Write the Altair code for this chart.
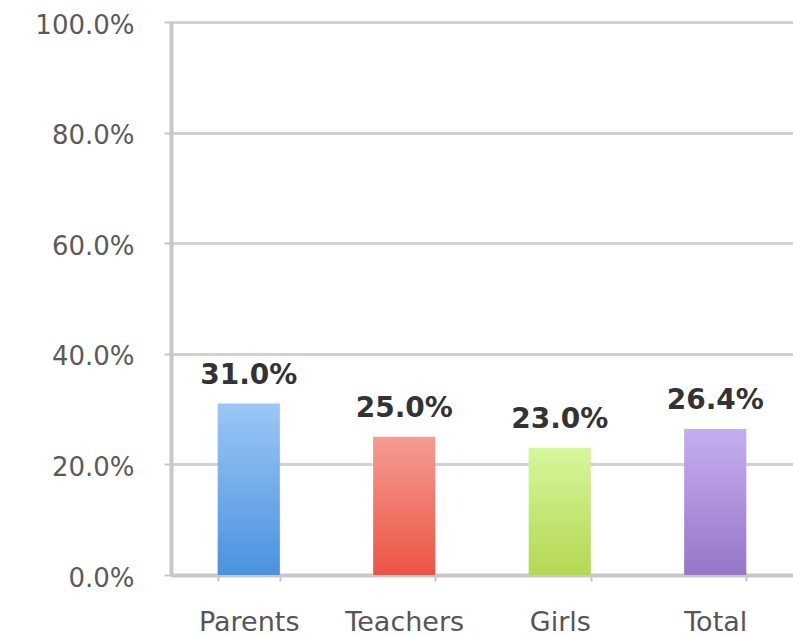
import altair as alt
import pandas as pd

categories = ["Parents", "Teachers", "Girls", "Total"]
values = [0.31, 0.25, 0.23, 0.264]
top_colors = ["#9cc6f6", "#f59c92", "#d6f69c", "#c6aef0"]
bottom_colors = ["#4a92de", "#ec5444", "#b4d852", "#9676c8"]

df = pd.DataFrame({"cat": categories, "val": values})

FONT = "DejaVu Sans"

x_enc = alt.X(
    "cat:N",
    sort=categories,
    title=None,
    scale=alt.Scale(paddingInner=0.6, paddingOuter=0.3),
    axis=alt.Axis(
        labelAngle=0,
        labelFont=FONT,
        labelFontSize=27,
        labelColor="#555555",
        labelBaseline="alphabetic",
        labelPadding=49,
        tickBand="extent",
        tickSize=6,
        tickColor="#c4c4c4",
        tickWidth=2,
        domainColor="#c8c8c8",
        domainWidth=4,
        grid=False,
    ),
)
y_enc = alt.Y(
    "val:Q",
    title=None,
    scale=alt.Scale(domain=[0, 1], nice=False),
    axis=alt.Axis(
        values=[0, 0.2, 0.4, 0.6, 0.8, 1.0],
        format=".1%",
        labelFont=FONT,
        labelFontSize=26,
        labelColor="#5a5a5a",
        labelPadding=30,
        labelOffset=3,
        tickSize=7,
        tickColor="#c4c4c4",
        tickWidth=2,
        domainColor="#c8c8c8",
        domainWidth=4,
        grid=True,
        gridColor="#d2d2d2",
        gridWidth=3,
    ),
)

base = alt.Chart(df)
layers = []
for c, t, b in zip(categories, top_colors, bottom_colors):
    grad = alt.Gradient(
        gradient="linear",
        stops=[alt.GradientStop(color=t, offset=0), alt.GradientStop(color=b, offset=1)],
        x1=0, x2=0, y1=0, y2=1,
    )
    layers.append(
        base.transform_filter(alt.datum.cat == c)
        .mark_bar(color=grad)
        .encode(x=x_enc, y=y_enc)
    )

text = base.mark_text(
    font="DejaVu Sans",
    fontWeight="bold",
    fontSize=28,
    color="#333333",
    baseline="alphabetic",
    dy=-20,
).encode(x=alt.X("cat:N", sort=categories), y="val:Q", text=alt.Text("val:Q", format=".1%"))

chart = alt.layer(*layers, text).properties(
    width=622,
    height=553,
    autosize=alt.AutoSizeParams(type="none"),
    padding={"left": 171, "top": 22, "right": 0, "bottom": 60},
    background="white",
).configure_view(stroke=None)

chart.save("out.html", embed_options={"renderer": "svg", "actions": False})
